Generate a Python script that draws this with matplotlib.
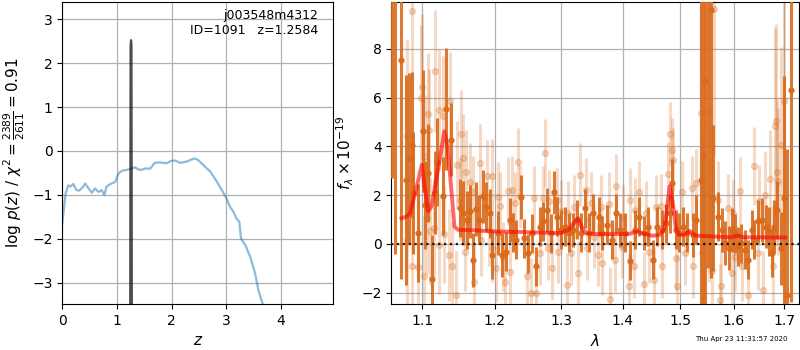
import matplotlib
matplotlib.use("Agg")
import matplotlib.pyplot as plt
from matplotlib.ticker import FixedLocator, NullLocator, FormatStrFormatter, NullFormatter

# ---------------- p(z) panel data ----------------
z_coarse = [0.0, 0.06, 0.11, 0.15, 0.20, 0.26, 0.31, 0.37, 0.42, 0.48, 0.54, 0.60, 0.66, 0.72,
            0.77, 0.81, 0.87, 0.97, 1.03, 1.09, 1.18, 1.27, 1.33, 1.39, 1.45, 1.51, 1.61, 1.69,
            1.79, 1.91, 2.00, 2.07, 2.16, 2.28, 2.37, 2.43, 2.49, 2.58, 2.71, 2.83, 2.92, 2.99,
            3.07, 3.13, 3.19, 3.24, 3.27, 3.35, 3.44, 3.53, 3.59, 3.67, 3.75]
logp_coarse = [-1.65, -0.97, -0.78, -0.81, -0.75, -0.89, -0.90, -0.83, -0.74, -0.85, -0.95, -0.85,
               -0.93, -0.89, -1.00, -0.81, -0.76, -0.70, -0.51, -0.45, -0.43, -0.40, -0.37, -0.42,
               -0.43, -0.40, -0.40, -0.27, -0.26, -0.28, -0.22, -0.22, -0.27, -0.24, -0.19, -0.17,
               -0.21, -0.32, -0.47, -0.70, -0.89, -1.04, -1.27, -1.38, -1.54, -1.61, -1.99, -2.14,
               -2.41, -2.79, -3.17, -3.49, -4.00]
z_fine = [1.238, 1.250, 1.2584, 1.266, 1.278]
logp_fine = [-8.0, 2.40, 2.52, 2.40, -8.0]

# ---------------- spectrum panel data ----------------
lam_d = [1.0609, 1.0645, 1.0722, 1.0788, 1.0828, 1.0864, 1.0886, 1.0952, 1.1010, 1.1033,
         1.1079, 1.1125, 1.1167, 1.1194, 1.1274, 1.1319, 1.1389, 1.1506, 1.1551, 1.1607,
         1.1653, 1.1700, 1.1736, 1.1774, 1.1829, 1.1875, 1.1931, 1.1968,
         1.2045, 1.2104, 1.2170, 1.2219, 1.2269, 1.2319, 1.2384, 1.2433, 1.2493, 1.2552,
         1.2612, 1.2667, 1.2716, 1.2782, 1.2842, 1.2891, 1.2940, 1.2991,
         1.3054, 1.3123, 1.3188, 1.3247, 1.3311, 1.3375, 1.3444, 1.3508, 1.3599, 1.3663,
         1.3744, 1.3813, 1.3888, 1.3957,
         1.4040, 1.4128, 1.4204, 1.4274, 1.4361, 1.4439, 1.4519, 1.4597, 1.4672, 1.4742,
         1.4812, 1.4860, 1.4918, 1.4988,
         1.5049, 1.5131, 1.5225, 1.5287, 1.5387, 1.5413, 1.5462, 1.5512, 1.5574, 1.5612,
         1.5700, 1.5775, 1.5826, 1.5901, 1.5968,
         1.6026, 1.6085, 1.6133, 1.6213, 1.6278, 1.6344, 1.6398, 1.6463, 1.6543, 1.6622,
         1.6690, 1.6742, 1.6795, 1.6849, 1.6928, 1.6994, 1.7061, 1.7131]
flux_d = [12.0, 11.0, 7.55, 2.63, 3.52, 4.07, 2.10, 0.45, 4.64, 1.60,
          2.90, -1.45, 2.10, 3.36, 1.95, 5.55, 4.27, 1.47, 1.27, 0.99,
          1.33, -0.66, 1.44, 0.99, 1.95, 1.53, 1.26, -0.45,
          0.44, -0.45, -0.32, 0.99, 0.45, 0.16, 1.94, 0.23, -0.38, 0.44,
          -0.93, 0.71, 0.92, 1.40, 0.44, 2.11, 1.12, 0.58,
          0.71, 0.45, 0.58, 0.99, 0.45, 1.47, 0.45, 1.26, 1.12, 0.45,
          0.78, 0.16, 1.26, 0.58,
          0.45, -0.70, 0.58, 1.12, 0.45, 0.71, -0.66, 0.71, 0.58, 0.85,
          1.26, 2.49, 0.58, 0.45,
          0.71, 0.45, 0.37, 0.99, 2.63, 3.59, 6.67, 11.0, 9.60, 1.88,
          1.12, 0.58, 0.03, -0.18, 0.58,
          0.44, -0.11, 0.03, -0.25, -0.66, 0.58, 0.16, 0.92, 0.99, 0.71,
          0.51, -0.38, 0.71, 1.40, -0.18, 1.88, -2.10, 6.33]
err_d = [9.3, 11.4, 9.0, 4.3, 3.5, 3.0, 2.5, 2.0, 2.5, 1.8,
         2.0, 1.8, 1.7, 1.8, 1.6, 2.5, 1.5, 1.2, 1.3, 1.2,
         1.1, 1.1, 1.1, 1.0, 1.1, 1.0, 1.0, 1.0,
         0.9, 0.9, 0.8, 0.9, 0.8, 0.8, 0.9, 0.8, 0.8, 0.8,
         0.8, 0.8, 0.8, 0.9, 0.8, 0.9, 0.8, 0.8,
         0.8, 0.8, 0.7, 0.8, 0.8, 0.8, 0.8, 0.8, 0.8, 0.7,
         0.8, 0.8, 0.8, 0.7,
         0.8, 0.8, 0.8, 0.8, 0.7, 0.8, 0.8, 0.8, 0.8, 0.8,
         0.8, 1.0, 0.8, 0.8,
         0.8, 0.8, 0.9, 1.0, 8.0, 9.0, 10.0, 12.0, 11.0, 3.0,
         1.0, 0.9, 0.9, 0.9, 0.9,
         0.8, 0.8, 0.8, 0.8, 0.8, 0.8, 0.8, 0.9, 0.9, 0.9,
         1.0, 1.0, 1.1, 1.2, 1.5, 5.0, 6.0, 8.7]

lam_l = [1.0873, 1.1167, 1.0996, 1.0986, 1.1079, 1.1097, 1.1228, 1.1274, 1.1375, 1.1033,
         1.0797, 1.1528, 1.1551, 1.1589, 1.1472, 1.1645, 1.1792, 1.1899, 1.1959, 1.1690,
         1.1506, 1.1065, 1.1111, 1.1158, 1.1297, 1.1367, 1.1403, 1.1458, 1.0873, 1.0952,
         1.1019, 1.0797, 1.1575, 1.1714, 1.1806, 1.1922, 1.1968, 1.1228,
         1.2757, 1.2343, 1.2194, 1.2254, 1.2085, 1.2045, 1.2304, 1.2369, 1.2582, 1.2716,
         1.2816, 1.2931, 1.2991, 1.3300, 1.3391, 1.3471, 1.3107, 1.3204, 1.2119, 1.2155,
         1.2230, 1.2483, 1.2534, 1.2618, 1.2866, 1.2951, 1.3087, 1.3151, 1.3269, 1.3417,
         1.2021, 1.2667, 1.2791, 1.3524,
         1.4812, 1.4847, 1.4870, 1.4789, 1.4274, 1.3888, 1.3770, 1.3638, 1.4391, 1.4567,
         1.4654, 1.5038, 1.5213, 1.5287, 1.4128, 1.4216, 1.4011, 1.3781, 1.4109, 1.4361,
         1.4543, 1.3877, 1.3663, 1.4199, 1.4683, 1.4918, 1.4948, 1.5086, 1.5225, 1.3583,
         1.3982, 1.4449,
         1.5625, 1.5375, 1.5526, 1.6994, 1.6841, 1.6821, 1.6940, 1.6398, 1.6861, 1.6710,
         1.6875, 1.6113, 1.6497, 1.5700, 1.5888, 1.5981, 1.6610, 1.5763, 1.6278, 1.6576,
         1.6775, 1.5593, 1.5956, 1.6153, 1.6477, 1.6014, 1.5732, 1.5400]
flux_l = [9.58, 7.11, 6.44, 5.99, 5.33, 4.69, 5.48, 5.23, 5.88, 3.62,
          4.41, 4.51, 3.52, 2.97, 3.25, 2.52, 3.32, 2.77, 2.79, 2.12,
          1.81, 1.05, 0.51, 0.65, 0.41, -0.45, -0.90, -2.10, -0.93, -0.96,
          -1.34, 0.16, -0.32, -1.55, 0.16, 0.58, -0.18, -0.04,
          3.73, 3.36, 2.18, 2.22, 1.56, 1.94, 1.67, 1.94, 1.88, 1.88,
          1.74, 1.81, 1.33, 2.84, 2.22, 1.67, 1.26, 1.53, -0.52, -1.55,
          -1.14, -1.34, -2.00, -2.03, -1.00, -0.32, -1.69, -0.38, -1.20, -0.18,
          -1.00, -0.38, -0.18, 0.30,
          4.51, 3.86, 3.45, 2.88, 2.11, 2.38, 1.64, 1.51, 1.26, 1.53,
          1.56, 2.11, 2.29, 2.49, 1.81, 1.40, 1.12, -2.27, -1.73, -1.64,
          -1.48, -0.66, -0.79, -0.93, -0.93, -0.59, -1.73, -0.38, -0.93, -0.45,
          -0.11, -0.32,
          9.65, 5.37, 5.44, 5.85, 5.03, 4.85, 4.07, 3.21, 2.95, 2.67,
          2.56, 2.18, 1.74, 1.81, 1.47, 1.26, 2.01, -1.75, -2.10, -1.89,
          -0.93, -1.10, -1.21, -0.93, -0.38, -0.52, -2.30, -0.38]
err_l = [3.5, 2.5, 3.0, 3.0, 2.5, 2.5, 2.5, 2.5, 2.0, 2.5,
         4.0, 1.8, 1.8, 1.7, 1.8, 1.6, 1.6, 1.5, 1.5, 1.5,
         1.7, 2.3, 2.2, 2.0, 2.0, 1.9, 1.8, 1.8, 3.0, 2.8,
         2.5, 3.5, 1.6, 1.5, 1.5, 1.5, 1.4, 2.0,
         1.4, 1.4, 1.4, 1.4, 1.4, 1.4, 1.3, 1.3, 1.3, 1.3,
         1.3, 1.3, 1.3, 1.3, 1.3, 1.3, 1.3, 1.3, 1.4, 1.4,
         1.4, 1.4, 1.4, 1.4, 1.3, 1.3, 1.3, 1.3, 1.3, 1.3,
         1.4, 1.3, 1.3, 1.3,
         1.3, 1.3, 1.3, 1.3, 1.3, 1.3, 1.3, 1.3, 1.3, 1.3,
         1.3, 1.3, 1.3, 1.4, 1.3, 1.3, 1.3, 1.3, 1.3, 1.3,
         1.3, 1.3, 1.3, 1.3, 1.3, 1.3, 1.3, 1.3, 1.3, 1.3,
         1.3, 1.3,
         6.0, 6.0, 7.0, 5.0, 4.0, 4.0, 4.0, 1.6, 3.0, 2.0,
         3.0, 1.4, 1.5, 1.6, 1.4, 1.4, 1.8, 1.5, 1.4, 1.6,
         2.5, 3.0, 1.4, 1.4, 1.5, 1.4, 1.5, 5.0]

lam_m = [1.0731, 1.0797, 1.0841, 1.0930, 1.0996, 1.1033, 1.1079, 1.1125, 1.1172, 1.1228,
         1.1297, 1.1343, 1.1389, 1.1436, 1.1482, 1.1736, 1.1996, 1.2493, 1.2991, 1.3123,
         1.3204, 1.3268, 1.3321, 1.3391, 1.3524, 1.4098, 1.4158, 1.4246, 1.4333, 1.4509,
         1.4625, 1.4712, 1.4754, 1.4812, 1.4870, 1.4918, 1.4975, 1.5068, 1.5175, 1.5263,
         1.5325, 1.5950, 1.6079, 1.6178, 1.7020]
flux_m = [1.05, 1.12, 1.26, 2.36, 3.25, 2.36, 1.33, 1.53, 2.36, 3.32,
          4.62, 4.00, 2.36, 0.71, 0.58, 0.55, 0.51, 0.48, 0.44, 0.58,
          0.85, 1.05, 0.71, 0.44, 0.40, 0.40, 0.44, 0.51, 0.44, 0.33,
          0.37, 0.58, 1.26, 2.36, 1.67, 0.71, 0.37, 0.37, 0.53, 0.37,
          0.33, 0.27, 0.34, 0.27, 0.26]

lam_ticks = [1.1, 1.2, 1.3, 1.4, 1.5, 1.6, 1.7]
flux_ticks = [-2, 0, 2, 4, 6, 8]
z_ticks = [0, 1, 2, 3, 4]
logp_ticks = [-3, -2, -1, 0, 1, 2, 3]

orange = '#d96a1b'

fig = plt.figure(figsize=(8, 3.5), dpi=100)
ax1 = fig.add_axes([62.3/800, 46/350, 271/800, 302.5/350])
ax2 = fig.add_axes([391.3/800, 46/350, 408/800, 302.5/350])

# ---- left panel ----
ax1.plot(z_coarse, logp_coarse, color='tab:blue', alpha=0.5, lw=1.6)
ax1.plot(z_fine, logp_fine, color='k', alpha=0.7, lw=1.6)
ax1.set_xlim(0, 4.96)
ax1.set_ylim(-3.48, 3.4)
ax1.set_xticks(z_ticks)
ax1.set_yticks(logp_ticks)
ax1.grid(True, color='#b0b0b0', lw=0.9)
ax1.set_axisbelow(True)
ax1.set_xlabel(r'$z$', fontsize=11)
ax1.set_ylabel(r'$\log\,p(z)$ / $\chi^2=\frac{2389}{2611}=0.91$', fontsize=11)
ax1.text(0.945, 0.975, 'j003548m4312\nID=1091   z=1.2584', transform=ax1.transAxes,
         ha='right', va='top', fontsize=9, linespacing=1.15)
ax1.tick_params(labelsize=10)

# ---- right panel ----
ax2.errorbar(lam_l, flux_l, yerr=err_l, marker='o', linestyle='none', color=orange,
             alpha=0.25, ms=4.3, elinewidth=2.2, capsize=0, zorder=2)
ax2.errorbar(lam_d, flux_d, yerr=err_d, marker='o', linestyle='none', color=orange,
             alpha=0.9, ms=3.5, elinewidth=2.2, capsize=0, zorder=3)
ax2.plot(lam_m, flux_m, color='red', alpha=0.6, lw=2.8, zorder=4)
ax2.axhline(0, color='k', ls=':', lw=1.6, alpha=0.85, zorder=5)
ax2.set_xscale('log')
ax2.set_xlim(1.06, 1.731)
ax2.set_ylim(-2.47, 9.95)
ax2.xaxis.set_major_locator(FixedLocator(lam_ticks))
ax2.xaxis.set_major_formatter(FormatStrFormatter('%.1f'))
ax2.xaxis.set_minor_locator(NullLocator())
ax2.xaxis.set_minor_formatter(NullFormatter())
ax2.set_yticks(flux_ticks)
ax2.grid(True, color='#b0b0b0', lw=0.9)
ax2.set_axisbelow(True)
ax2.set_xlabel(r'$\lambda$', fontsize=11)
ax2.set_ylabel(r'$f_\lambda\times10^{-19}$', fontsize=11)
ax2.tick_params(labelsize=10)

fig.text(0.985, 0.031, 'Thu Apr 23 11:31:57 2020', ha='right', va='center', fontsize=5)

fig.savefig('out.png', dpi=100)
